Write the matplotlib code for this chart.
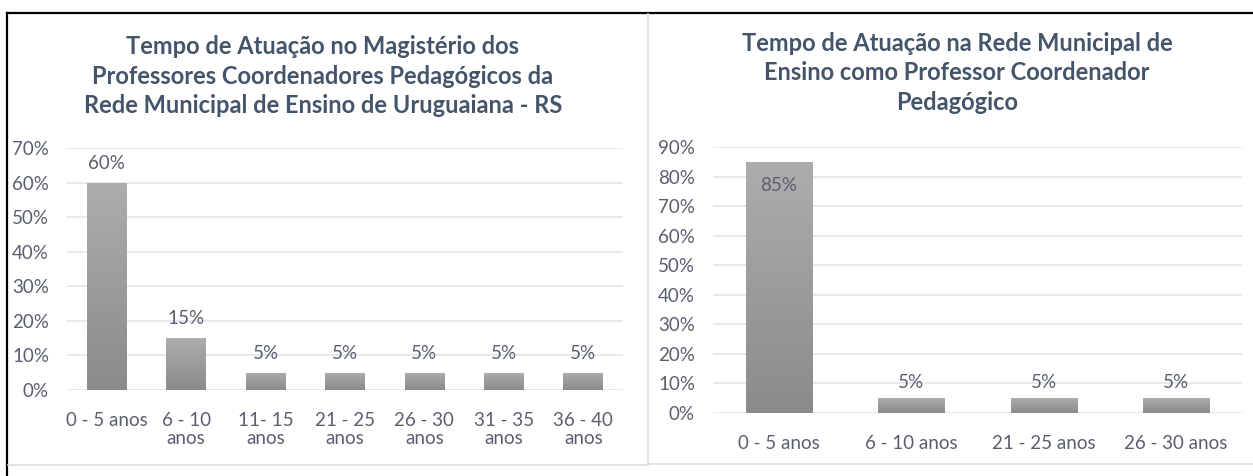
import matplotlib
matplotlib.use('Agg')
import matplotlib.pyplot as plt
import numpy as np
from matplotlib.colors import LinearSegmentedColormap
from matplotlib.lines import Line2D

# ---------------- data ----------------
left_title = ("Tempo de Atuação no Magistério dos\n"
              "Professores Coordenadores Pedagógicos da\n"
              "Rede Municipal de Ensino de Uruguaiana - RS")
left_categories = ["0 - 5 anos", "6 - 10\nanos", "11- 15\nanos", "21 - 25\nanos",
                   "26 - 30\nanos", "31 - 35\nanos", "36 - 40\nanos"]
left_values = [0.60, 0.15, 0.05, 0.05, 0.05, 0.05, 0.05]
left_yticks = [0.0, 0.1, 0.2, 0.3, 0.4, 0.5, 0.6, 0.7]

right_title = ("Tempo de Atuação na Rede Municipal de\n"
               "Ensino como Professor Coordenador\n"
               "Pedagógico")
right_categories = ["0 - 5 anos", "6 - 10 anos", "21 - 25 anos", "26 - 30 anos"]
right_values = [0.85, 0.05, 0.05, 0.05]
right_yticks = [0.0, 0.1, 0.2, 0.3, 0.4, 0.5, 0.6, 0.7, 0.8, 0.9]

# ---------------- style ----------------
W, H = 1253, 476
FONT = ['Lato', 'DejaVu Sans']
plt.rcParams['font.family'] = FONT
TITLE_C = '#44546a'
TEXT_C = '#595f6e'
GRID_C = '#e2e6ec'
BORDER_C = '#d9dde3'
TICK_FS = 13.5
TITLE_FS = 17
grad = LinearSegmentedColormap.from_list('g', ['#8b8b8b', '#adadad'])

fig = plt.figure(figsize=(W / 100, H / 100), dpi=100)
fig.patch.set_facecolor('white')


def axpos(x0, x1, ytop, ybot):
    return [x0 / W, 1 - ybot / H, (x1 - x0) / W, (ybot - ytop) / H]


def fx(x):
    return x / W


def fy(y):
    return 1 - y / H


def draw(ax, cats, vals, yticks, label_off):
    x = np.arange(len(cats))
    bars = ax.bar(x, vals, width=0.5, color='#9c9c9c', zorder=2)
    for b in bars:
        x0, y0 = b.get_x(), b.get_y()
        w, h = b.get_width(), b.get_height()
        img = np.linspace(0, 1, 256).reshape(-1, 1)
        im = ax.imshow(img, cmap=grad, origin='lower', aspect='auto',
                       extent=(x0, x0 + w, y0, y0 + h), zorder=3)
        im.set_clip_path(b)
    ax.set_xlim(-0.5, len(cats) - 0.5)
    ax.set_ylim(0, yticks[-1])
    ax.set_yticks(yticks)
    ax.set_yticklabels([f"{int(round(v * 100))}%" for v in yticks])
    ax.set_xticks(x)
    ax.set_xticklabels(cats, linespacing=1.12)
    for s in ax.spines.values():
        s.set_visible(False)
    ax.yaxis.grid(True, color=GRID_C, lw=1.2, zorder=0)
    ax.set_axisbelow(True)
    ax.tick_params(axis='y', length=0, pad=13, labelsize=TICK_FS, labelcolor=TEXT_C)
    ax.tick_params(axis='x', length=0, pad=15.5, labelsize=TICK_FS, labelcolor=TEXT_C)
    top = yticks[-1]
    for xi, v in zip(x, vals):
        off = -17 if v + 0.06 > top else label_off
        ax.annotate(f"{int(round(v * 100))}%", xy=(xi, v), xytext=(0, off),
                    textcoords='offset points', ha='center', va='center',
                    fontsize=TICK_FS, color=TEXT_C, zorder=5)


axL = fig.add_axes(axpos(67, 623, 148, 390))
draw(axL, left_categories, left_values, left_yticks, 14)
axR = fig.add_axes(axpos(713, 1242, 147, 413))
draw(axR, right_categories, right_values, right_yticks, 11)

fig.text(fx(323), fy(76), left_title, ha='center', va='center', fontsize=TITLE_FS,
         fontweight='bold', color=TITLE_C, linespacing=1.33)
fig.text(fx(957), fy(73), right_title, ha='center', va='center', fontsize=TITLE_FS,
         fontweight='bold', color=TITLE_C, linespacing=1.33)

# frame lines
fig.add_artist(Line2D([fx(7), fx(1253)], [fy(13), fy(13)], color='black', lw=1.6,
                      transform=fig.transFigure))
fig.add_artist(Line2D([fx(7), fx(7)], [fy(13), fy(476)], color='black', lw=1.6,
                      transform=fig.transFigure))
fig.add_artist(Line2D([fx(8), fx(648)], [fy(465), fy(465)], color=BORDER_C, lw=1.2,
                      transform=fig.transFigure))
fig.add_artist(Line2D([fx(648), fx(648)], [fy(14), fy(465)], color=BORDER_C, lw=1.2,
                      transform=fig.transFigure))
fig.add_artist(Line2D([fx(648), fx(1253)], [fy(464), fy(464)], color=BORDER_C, lw=1.2,
                      transform=fig.transFigure))

fig.savefig('out.png', dpi=100, facecolor='white')
